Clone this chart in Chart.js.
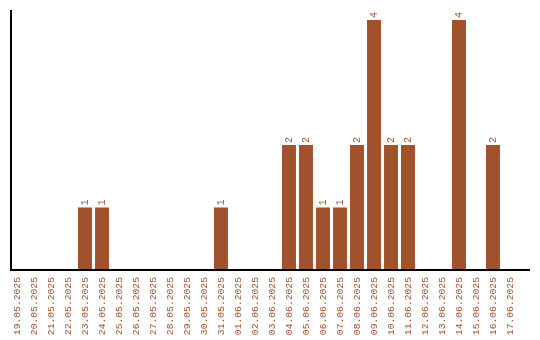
<!DOCTYPE html>
<html><head><meta charset="utf-8">
<script src="https://cdn.jsdelivr.net/npm/chart.js@4/dist/chart.umd.min.js"></script>
<style>html,body{margin:0;padding:0;background:#fff}#w{width:540px;height:340px}</style>
</head><body><div id="w"><canvas id="c" width="540" height="340"></canvas></div>
<script>
const categories = ["19.05.2025","20.05.2025","21.05.2025","22.05.2025","23.05.2025","24.05.2025","25.05.2025","26.05.2025","27.05.2025","28.05.2025","29.05.2025","30.05.2025","31.05.2025","01.06.2025","02.06.2025","03.06.2025","04.06.2025","05.06.2025","06.06.2025","07.06.2025","08.06.2025","09.06.2025","10.06.2025","11.06.2025","12.06.2025","13.06.2025","14.06.2025","15.06.2025","16.06.2025","17.06.2025"];
const counts = [0,0,0,0,1,1,0,0,0,0,0,0,1,0,0,0,2,2,1,1,2,4,2,2,0,0,4,0,2,0];
const yMax = 4.16;
const COLOR = '#A0522D';
const FAMILY = '"Liberation Mono", "DejaVu Sans Mono", monospace';
const FONT = '10px ' + FAMILY;

const overlay = {
  id: 'overlay',
  afterDatasetsDraw(chart) {
    const ctx = chart.ctx;
    const meta = chart.getDatasetMeta(0);
    ctx.save();
    ctx.fillStyle = COLOR;
    ctx.font = FONT;
    meta.data.forEach((bar, i) => {
      const v = counts[i];
      if (!v) return;
      ctx.save();
      ctx.translate(bar.x, bar.y - 2);
      ctx.rotate(-Math.PI / 2);
      ctx.textAlign = 'left';
      ctx.textBaseline = 'middle';
      ctx.fillText(String(v), 0, 0);
      ctx.restore();
    });
    const a = chart.chartArea;
    ctx.strokeStyle = '#000';
    ctx.lineWidth = 2;
    ctx.beginPath();
    ctx.moveTo(11, a.top);
    ctx.lineTo(11, a.bottom + 1);
    ctx.moveTo(10, a.bottom);
    ctx.lineTo(530, a.bottom);
    ctx.stroke();
    ctx.restore();
  }
};

new Chart(document.getElementById('c'), {
  type: 'bar',
  data: { labels: categories, datasets: [{ data: counts, backgroundColor: COLOR, barPercentage: 0.82, categoryPercentage: 1 }] },
  options: {
    responsive: false, animation: false,
    layout: { padding: { left: 8.5, right: 21.5, top: 10, bottom: 0 } },
    plugins: { legend: { display: false }, tooltip: { enabled: false } },
    scales: {
      x: {
        grid: { display: false, drawTicks: false }, border: { display: false },
        afterFit(s) { s.height = 70; },
        ticks: { color: COLOR, font: { family: FAMILY, size: 9.7 }, minRotation: 90, maxRotation: 90, autoSkip: false, padding: 7 }
      },
      y: { display: false, min: 0, max: yMax }
    }
  },
  plugins: [overlay]
});
</script></body></html>
